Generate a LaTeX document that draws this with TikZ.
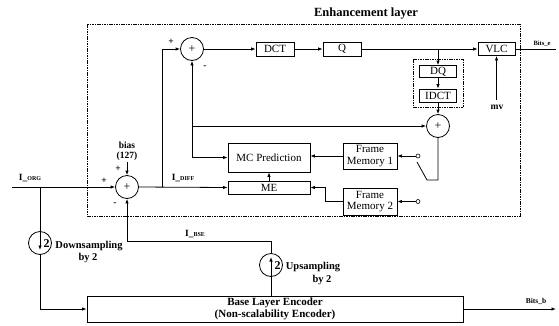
\documentclass[tikz,border=0pt]{standalone}
\usepackage{fontspec}
\setmainfont{Liberation Serif}
\usetikzlibrary{arrows.meta}
\begin{document}
\begin{tikzpicture}[x=1pt,y=-1pt,line width=0.8pt,
  arr/.style={-{Latex[length=4.5pt,width=3.5pt]}},
  box/.style={draw,rectangle,inner sep=0pt,align=center,font=\fontsize{11}{11.5}\selectfont},
  sumc/.style={draw,circle,minimum size=23pt,inner sep=0pt,font=\fontsize{12}{12}\selectfont},
  lbl/.style={inner sep=0pt,font=\bfseries\fontsize{10.5}{11}\selectfont},
  sml/.style={inner sep=0pt,font=\bfseries\fontsize{9.5}{10}\selectfont},
  dashbox/.style={draw,dash pattern=on 1.6pt off 0.8pt,line width=0.9pt},
  term/.style={draw,circle,fill=white,minimum size=4pt,inner sep=0pt,line width=0.6pt}]
\useasboundingbox (0,0) rectangle (559,325);
% enhancement layer frame
\node[inner sep=0pt,font=\bfseries\fontsize{12.5}{13}\selectfont] (title) at (366,14) {Enhancement layer};
\draw[dashbox] (87,24) rectangle (520,216);
% blocks
\node[sumc] (sT) at (192,49) {+};
\node[box,minimum width=38pt,minimum height=14pt] (dct) at (275,49) {DCT};
\node[box,minimum width=38pt,minimum height=14pt] (q) at (342,49) {Q};
\node[box,minimum width=37pt,minimum height=13pt] (vlc) at (496.5,49) {VLC};
\node[box,minimum width=37pt,minimum height=12pt] (dq) at (438,71.5) {DQ};
\node[box,minimum width=37pt,minimum height=13pt] (idct) at (438,95.5) {IDCT};
\draw[dashbox] (413,59) rectangle (463,107);
\node[sumc] (sB) at (438,126) {+};
\node[box,minimum width=54pt,minimum height=26pt] (fm1) at (370,156) {Frame\\Memory 1};
\node[box,minimum width=54pt,minimum height=27pt] (fm2) at (370,201.5) {Frame\\Memory 2};
\node[box,minimum width=82pt,minimum height=29pt] (mc) at (269,157.5) {MC Prediction};
\node[box,minimum width=82pt,minimum height=13pt] (me) at (269,187.5) {ME};
\node[sumc] (sM) at (127,187) {+};
\node[sumc] (dn) at (40,243) {};
\node[sumc] (upc) at (271,265) {};
\node[box,minimum width=376pt,minimum height=26pt,font=\bfseries\fontsize{11}{12.5}\selectfont] (base) at (275,309) {Base Layer Encoder\\(Non-scalability Encoder)};
\node[term] (t1) at (418,156) {};
\node[term] (t2) at (418,201.5) {};
% coordinates
\coordinate (in) at (12,187);
\coordinate (b1) at (40,187);
\coordinate (b2) at (40,309);
\coordinate (bt) at (127,162);
\coordinate (d1) at (162,187);
\coordinate (d2) at (162,49);
\coordinate (qb) at (438,49);
\coordinate (be) at (556,49);
\coordinate (bb) at (556,309);
\coordinate (mvb) at (496.5,100);
\coordinate (j1) at (192,157.5);
\coordinate (j2) at (192,126);
\coordinate (sw1) at (438,180);
\coordinate (sw2) at (427,180);
\coordinate (sw3) at (417,162);
\coordinate (f2a) at (325,201.5);
\coordinate (f2b) at (325,187.5);
\coordinate (dnin) at (40,250);
\coordinate (upb) at (271,296);
\coordinate (upin) at (271,257);
\coordinate (u1) at (271,241);
\coordinate (u2) at (127,241);
% connectors
\draw[arr] (in) -- (sM.west);
\draw[arr] (b1) -- (dnin);
\draw[arr] (dn.south) -- (b2) -- (base.west);
\draw[arr] (bt) -- (sM.north);
\draw[arr] (sM.east) -- (me.west);
\draw[arr] (d1) -- (d2) -- (sT.west);
\draw[arr] (sT.east) -- (dct.west);
\draw[arr] (dct.east) -- (q.west);
\draw[arr] (q.east) -- (vlc.west);
\draw[arr] (qb) -- (dq.north);
\draw[arr] (dq.south) -- (idct.north);
\draw[arr] (idct.south) -- (sB.north);
\draw (vlc.east) -- (be);
\draw[arr] (mvb) -- (vlc.south);
\draw[arr] (j1) -- (sT.south);
\draw[arr] (j1) -- (mc.west);
\draw[arr] (j2) -- (sB.west);
\draw (sB.south) -- (sw1) -- (sw2) -- (sw3);
\draw[arr] (t1) -- (fm1.east);
\draw[arr] (t2) -- (fm2.east);
\draw[arr] (fm1.west) -- (fm1.west -| mc.east);
\draw[arr] (fm2.west) -- (f2a) -- (f2b) -- (me.east);
\draw[arr] (me.north) -- (mc.south);
\draw[arr] (upb) -- (upin);
\draw[arr] (upc.north) -- (u1) -- (u2) -- (sM.south);
\draw[arr] (base.east) -- (bb);
% labels
\node[sml] (l2d) at (46.5,243.5) {\fontsize{12}{12}\selectfont 2};
\node[sml] (l2u) at (277.5,265.5) {\fontsize{12}{12}\selectfont 2};
\node[lbl] (ldown) at (89,246) {Downsampling};
\node[lbl] (ldown2) at (88,258) {by 2};
\node[lbl] (lup) at (313,267) {Upsampling};
\node[lbl] (lup2) at (322,280) {by 2};
\node[sml] (lorg) at (30,178) {I\_{\fontsize{6}{6}\selectfont ORG}};
\node[sml] (ldiff) at (183,178) {I\_{\fontsize{6}{6}\selectfont DIFF}};
\node[sml] (lbse) at (195,234) {I\_{\fontsize{6}{6}\selectfont BSE}};
\node[sml] (lbias) at (127,145) {bias};
\node[sml] (l127) at (127,156) {(127)};
\node[sml] (p1) at (104,181) {+};
\node[sml] (p2) at (118,169) {+};
\node[sml] (m1) at (115,204) {-};
\node[sml] (p3) at (171,42) {+};
\node[sml] (m2) at (205,67) {-};
\node[sml] (lmv) at (497,107) {mv};
\node[inner sep=0pt,font=\bfseries\fontsize{6.5}{7}\selectfont] (lbe) at (542,44) {Bits\_e};
\node[inner sep=0pt,font=\bfseries\fontsize{7.5}{8}\selectfont] (lbb) at (536,301) {Bits\_b};
\end{tikzpicture}
\end{document}
